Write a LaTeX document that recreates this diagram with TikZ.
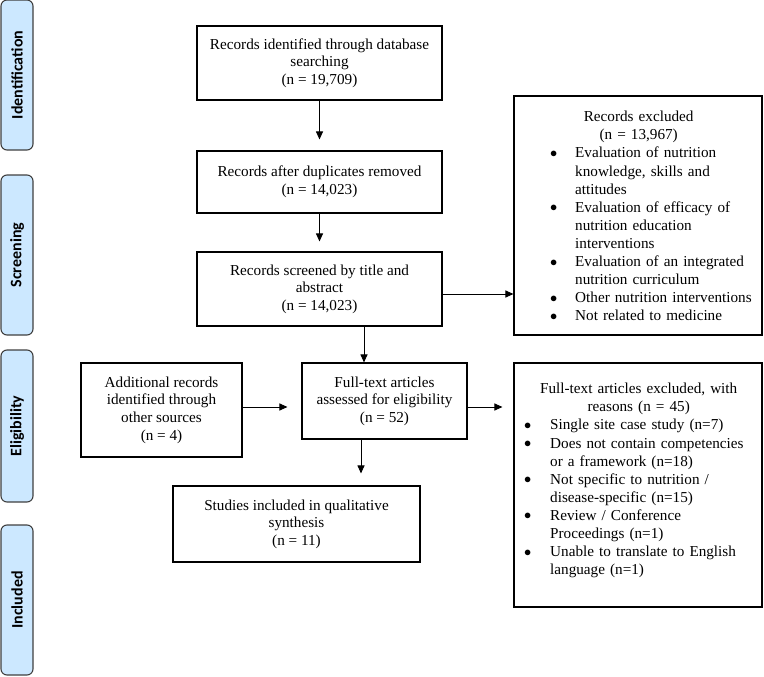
\documentclass[tikz,border=0pt]{standalone}
\usepackage{fontspec}
\setmainfont{Liberation Serif}
\newfontfamily\sidefont{Carlito}
\usetikzlibrary{arrows.meta}
\definecolor{sidefill}{HTML}{CCE8FF}
\definecolor{sideedge}{HTML}{404040}
\newcommand{\mybul}{\raisebox{0.5pt}{$\bullet$}}
\newenvironment{blist}[2]{\begin{list}{\mybul}{\setlength\leftmargin{#1}\setlength\labelsep{#2}\setlength\labelwidth{8pt}\setlength\itemsep{0pt}\setlength\parsep{0pt}\setlength\topsep{0pt}\setlength\partopsep{0pt}\setlength\itemindent{0pt}}\raggedright}{\end{list}}
\begin{document}
\begin{tikzpicture}[x=1pt,y=-1pt,
  box/.style={draw,line width=1.1pt,align=center,inner sep=0pt,font=\fontsize{15.2}{17.6}\selectfont},
  txt/.style={inner sep=0pt,font=\fontsize{15.2}{18.1}\selectfont},
  side/.style={draw=sideedge,fill=sidefill,rounded corners=6pt,line width=1.1pt,rotate=90,inner sep=0pt,minimum height=32pt,font=\sidefont\bfseries\fontsize{16}{19}\selectfont},
  arr/.style={-{Triangle[length=8pt,width=7pt]},line width=1pt}]
\useasboundingbox (0,0) rectangle (764,677);
% side labels
\node[side,minimum width=150pt] (sid) at (17,75) {Identification};
\node[side,minimum width=160pt] (sscr) at (17,255) {Screening};
\node[side,minimum width=152pt] (self) at (17,426) {Eligibility};
\node[side,minimum width=150pt] (sinc) at (17,600) {Included};
% main boxes
\node[box,minimum width=245pt,minimum height=74pt] (b1) at (319.5,63) {Records identified through database\\searching\\(n = 19,709)};
\node[box,minimum width=245pt,minimum height=62pt] (b2) at (319.5,182) {Records after duplicates removed\\(n = 14,023)};
\node[box,minimum width=245pt,minimum height=74pt] (b3) at (319.5,289) {Records screened by title and\\abstract\\(n = 14,023)};
\node[box,minimum width=161pt,minimum height=94pt] (add) at (161.5,410) {Additional records\\identified through\\other sources\\(n = 4)};
\node[box,minimum width=165pt,minimum height=76pt] (ft) at (384.5,401) {Full-text articles\\assessed for eligibility\\(n = 52)};
\node[box,minimum width=247pt,minimum height=76pt] (st) at (296.5,524) {Studies included in qualitative\\synthesis\\(n = 11)};
\node[box,minimum width=248pt,minimum height=239pt] (ex1) at (638,215.5) {};
\node[box,minimum width=248pt,minimum height=244pt] (ex2) at (638,485) {};
% exclusion texts
\node[txt,text width=226pt,anchor=north west] (ex1t) at (525.5,111) {{\centering Records excluded\\(n = 13,967)\par}
\begin{blist}{49.5pt}{18pt}
\item Evaluation of nutrition\\knowledge, skills and\\attitudes
\item Evaluation of efficacy of\\nutrition education\\interventions
\item Evaluation of an integrated\\nutrition curriculum
\item Other nutrition interventions
\item Not related to medicine
\end{blist}};
\node[txt,text width=237pt,anchor=north west] (ex2t) at (520,383) {{\centering Full-text articles excluded, with\\reasons (n = 45)\par}
\begin{blist}{30pt}{19pt}
\item Single site case study (n=7)
\item Does not contain competencies\\or a framework (n=18)
\item Not specific to nutrition /\\disease-specific (n=15)
\item Review / Conference\\Proceedings (n=1)
\item Unable to translate to English\\language (n=1)
\end{blist}};
% arrows
\draw[arr,shorten >=11pt] (b1.south) -- (b2.north);
\draw[arr,shorten >=10pt] (b2.south) -- (b3.north);
\draw[arr] ([yshift=-5pt]b3.east) -- ([yshift=-5pt]b3.east -| ex1.west);
\draw[arr] ([xshift=44.5pt]b3.south) -- ([xshift=44.5pt]b3.south |- ft.north);
\draw[arr,shorten >=14pt] ([yshift=3pt]add.east) -- ([yshift=3pt]add.east -| ft.west);
\draw[arr,shorten >=11pt] ([yshift=-6pt]ft.east) -- ([yshift=-6pt]ft.east -| ex2.west);
\draw[arr,shorten >=12pt] ([xshift=-23.5pt]ft.south) -- ([xshift=-23.5pt]ft.south |- st.north);
\end{tikzpicture}
\end{document}
